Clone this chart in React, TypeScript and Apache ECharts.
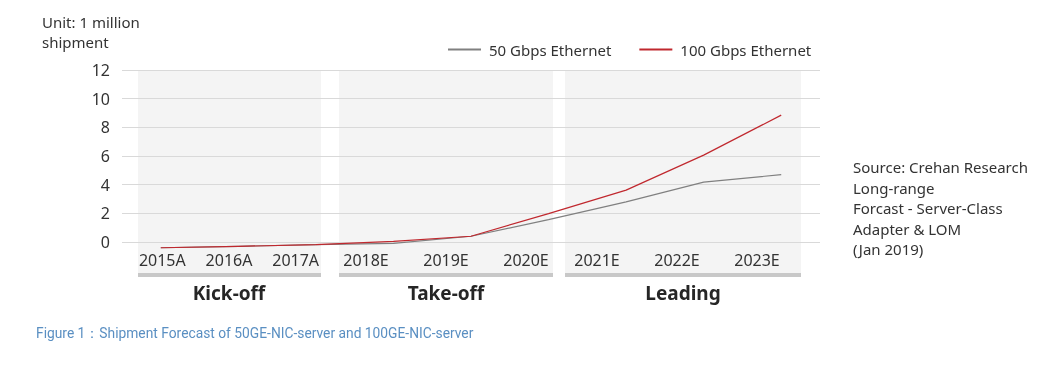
import React, { useEffect, useRef } from "react";
import * as echarts from "echarts";

const categories = ["2015A", "2016A", "2017A", "2018E", "2019E", "2020E", "2021E", "2022E", "2023E"];
const gbe50 = [-0.4, -0.3, -0.19, -0.1, 0.4, 1.56, 2.8, 4.18, 4.7];
const gbe100 = [-0.4, -0.3, -0.19, 0.05, 0.4, 1.98, 3.62, 6.06, 8.85];
const phaseNames = ["Kick-off", "Take-off", "Leading"];
const kickoffYears = ["2015A", "2016A", "2017A"];
const takeoffYears = ["2018E", "2019E", "2020E"];
const leadingYears = ["2021E", "2022E", "2023E"];
const seriesNames = ["50 Gbps Ethernet", "100 Gbps Ethernet"];
const unitText = "Unit: 1 million\nshipment";
const sourceText = "Source: Crehan Research\nLong-range\nForcast - Server-Class\nAdapter & LOM\n(Jan 2019)";
const captionText = "Figure 1\uFF1AShipment Forecast of 50GE-NIC-server and 100GE-NIC-server";

const FONT = "Noto Sans";
const TEXT = "#333333";

export default function App() {
  const ref = useRef<HTMLDivElement>(null);
  useEffect(() => {
    if (!ref.current) return;
    const chart = echarts.init(ref.current, undefined, { renderer: "svg" });
    const labelAxis = (gridIndex: number, data: string[], name: string, namePad: number[]) => ({
      gridIndex,
      type: "category",
      data,
      axisLine: { show: false },
      axisTick: { show: false },
      axisLabel: { margin: 4, fontSize: 16, color: TEXT, fontFamily: FONT },
      name,
      nameLocation: "middle",
      nameGap: 35,
      nameTextStyle: { fontSize: 19, fontWeight: "bold", color: "#262626", fontFamily: FONT, padding: namePad },
    });
    const panels = [
      [138, 183],
      [339, 214],
      [565, 236],
    ];
    const graphic: any[] = [];
    panels.forEach(([x, w]) => {
      graphic.push({ type: "rect", z: -10, shape: { x, y: 70, width: w, height: 203 }, style: { fill: "#f4f4f4" } });
      graphic.push({ type: "rect", z: -9, shape: { x, y: 273, width: w, height: 4 }, style: { fill: "#c8c8c8" } });
    });
    chart.setOption({
      animation: false,
      textStyle: { fontFamily: FONT },
      title: [
        { text: unitText, left: 42, top: 12, padding: 0, textStyle: { fontSize: 15, fontWeight: "normal", lineHeight: 20, color: TEXT, fontFamily: FONT } },
        { text: sourceText, left: 853, top: 157, padding: 0, textStyle: { fontSize: 15, fontWeight: "normal", lineHeight: 20.5, color: TEXT, fontFamily: FONT } },
        { text: captionText, left: 36, top: 326, padding: 0, textStyle: { fontSize: 13.8, fontWeight: "normal", color: "#5a8fc2", fontFamily: "Roboto" } },
      ],
      legend: {
        data: seriesNames,
        left: 447,
        top: 42,
        padding: 0,
        itemWidth: 33,
        itemHeight: 14,
        itemGap: 27,
        itemStyle: { opacity: 0 },
        textStyle: { fontSize: 15, color: TEXT, fontFamily: FONT, padding: [0, 0, 0, 3] },
      },
      grid: [
        { left: 122, right: 237, top: 70, bottom: 125 },
        { left: 129, width: 200, top: 70, height: 178 },
        { left: 326, width: 240, top: 70, height: 178 },
        { left: 557, width: 240, top: 70, height: 178 },
      ],
      xAxis: [
        { gridIndex: 0, type: "category", data: categories, boundaryGap: true, show: false },
        labelAxis(1, kickoffYears, phaseNames[0], [0, 0, 0, 0]),
        labelAxis(2, takeoffYears, phaseNames[1], [0, 0, 0, 0]),
        labelAxis(3, leadingYears, phaseNames[2], [0, 0, 0, 12]),
      ],
      yAxis: [
        {
          gridIndex: 0,
          type: "value",
          min: 0,
          max: 12,
          interval: 2,
          axisLine: { show: false },
          axisTick: { show: false },
          axisLabel: { margin: 12, fontSize: 16, color: TEXT, fontFamily: FONT },
          splitLine: { lineStyle: { color: "#d9d9d9", width: 1 } },
        },
        { gridIndex: 1, type: "value", show: false },
        { gridIndex: 2, type: "value", show: false },
        { gridIndex: 3, type: "value", show: false },
      ],
      series: [
        {
          name: seriesNames[0],
          type: "line",
          data: gbe50,
          symbol: "none",
          clip: false,
          lineStyle: { color: "#808080", width: 1.2 },
          itemStyle: { color: "#808080" },
        },
        {
          name: seriesNames[1],
          type: "line",
          data: gbe100,
          symbol: "none",
          clip: false,
          lineStyle: { color: "#c0282e", width: 1.2 },
          itemStyle: { color: "#c0282e" },
        },
      ],
      graphic,
    });
    return () => chart.dispose();
  }, []);
  return <div ref={ref} style={{ position: "fixed", left: 0, top: 0, width: 1057, height: 367 }} />;
}
